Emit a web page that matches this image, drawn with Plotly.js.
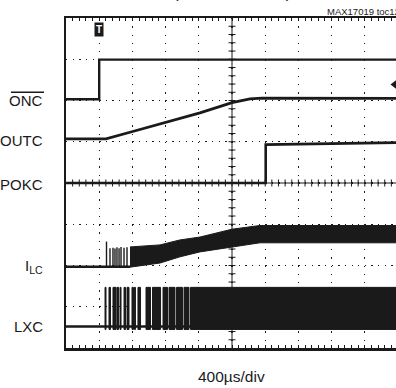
<!DOCTYPE html>
<html>
<head>
<meta charset="utf-8">
<script src="https://cdn.plot.ly/plotly-3.0.1.min.js"></script>
<style>
  html, body { margin: 0; padding: 0; background: #fff; overflow: hidden; width: 396px; height: 388px; }
  #scope { width: 420px; height: 388px; }
</style>
</head>
<body>
<div id="scope"></div>
<script>
// Time in microseconds from the left edge of the screen (400 us/div, 10 div),
// amplitudes in screen divisions (8 div high).
const tOnc = [0, 400, 400, 4000];
const vOnc = [6.03, 6.03, 6.99, 6.99];

const tOutc = [0, 482, 771, 1133, 1614, 2000, 2217, 2361, 4000];
const vOutc = [5.07, 5.07, 5.23, 5.43, 5.70, 5.95, 6.04, 6.06, 6.05];

const tPokc = [0, 2406, 2406, 4000];
const vPokc = [4.00, 4.00, 4.93, 4.98];

// Inductor current: idle level, first discrete current pulses, then ripple envelope
const ilcIdle = 1.97;
const ilcIdleEnd = 771;
const ilcSpikeT = [488, 530, 566, 590, 614, 639, 663, 699, 735];
const ilcSpikeTop = [2.58, 2.42, 2.43, 2.41, 2.44, 2.42, 2.45, 2.43, 2.44];
const ilcEnvT = [771, 1133, 1373, 1614, 2000, 2337, 4000];
const ilcEnvHi = [2.45, 2.50, 2.62, 2.69, 2.88, 2.97, 2.97];
const ilcEnvLo = [1.96, 2.06, 2.21, 2.33, 2.45, 2.55, 2.55];

// Switching node: idle level and bursts of switching activity
const lxcIdle = 0.52;
const lxcHigh = 1.47;
const lxcLow = 0.45;
const lxcBurstStart = [470, 518, 566, 614, 651, 699, 735, 795, 825, 867, 964, 1042, 1169, 1241, 1331, 1422, 1500];
const lxcBurstEnd   = [482, 536, 602, 633, 663, 717, 759, 813, 837, 898, 1018, 1139, 1223, 1313, 1404, 1482, 4100];

// Channel labels
const chanLabels = ['ONC', 'OUTC', 'POKC', 'I<sub>LC</sub>', 'LXC'];
const chanLabelY = [5.99, 5.04, 3.96, 1.98, 0.51];

const INK = '#1a1a1a';
const SANS = '"Liberation Sans", Arial, Helvetica, sans-serif';

function line(x, y, w) {
  return { x: x, y: y, type: 'scatter', mode: 'lines', line: { color: INK, width: w || 2.5 }, hoverinfo: 'skip' };
}

const traces = [];

// LXC: idle line plus filled switching bursts
traces.push(line([0, 4000], [lxcIdle, lxcIdle], 2.5));
const bx = [], by = [];
lxcBurstStart.forEach((s, i) => {
  const e = lxcBurstEnd[i];
  bx.push(s, e, e, s, s, null);
  by.push(lxcLow, lxcLow, lxcHigh, lxcHigh, lxcLow, null);
});
traces.push({ x: bx, y: by, type: 'scatter', mode: 'lines', fill: 'toself', fillcolor: INK,
  line: { color: INK, width: 1 }, hoverinfo: 'skip' });

// ILC: idle, discrete pulses, ripple band
traces.push(line([0, ilcIdleEnd], [ilcIdle, ilcIdle], 2.5));
const sx = [], sy = [];
ilcSpikeT.forEach((t, i) => { sx.push(t, t, null); sy.push(ilcIdle, ilcSpikeTop[i], null); });
traces.push(line(sx, sy, 1.4));
traces.push({ x: ilcEnvT.concat(ilcEnvT.slice().reverse()),
  y: ilcEnvHi.concat(ilcEnvLo.slice().reverse()),
  type: 'scatter', mode: 'lines', fill: 'toself', fillcolor: INK,
  line: { color: INK, width: 1 }, hoverinfo: 'skip' });

traces.push(line(tPokc, vPokc, 2.6));
traces.push(line(tOutc, vOutc, 2.8));
traces.push(line(tOnc, vOnc, 2.4));

// channel reference marker at the right edge
const refMarkerT = [3964];
const refMarkerY = [6.39];
traces.push({ x: refMarkerT, y: refMarkerY, type: 'scatter', mode: 'markers', cliponaxis: false,
  marker: { symbol: 'triangle-left', size: 9, color: INK }, hoverinfo: 'skip' });

// Graticule centre lines with cross ticks
const shapes = [
  { type: 'line', xref: 'x', yref: 'y', x0: 2000, x1: 2000, y0: 0, y1: 8, line: { color: INK, width: 1 }, layer: 'below' },
  { type: 'line', xref: 'x', yref: 'y', x0: 0, x1: 4000, y0: 4, y1: 4, line: { color: INK, width: 1 }, layer: 'below' }
];
for (let k = 1; k < 40; k++) {
  const yv = k * 0.2;
  shapes.push({ type: 'line', xref: 'x', yref: 'y', x0: 2000 - 42, x1: 2000 + 42, y0: yv, y1: yv,
    line: { color: INK, width: 1 }, layer: 'below' });
}
for (let k = 1; k < 50; k++) {
  const xv = k * 80;
  shapes.push({ type: 'line', xref: 'x', yref: 'y', x0: xv, x1: xv, y0: 4 - 0.085, y1: 4 + 0.085,
    line: { color: INK, width: 1 }, layer: 'below' });
}
// overbar on ONC
shapes.push({ type: 'line', xref: 'paper', yref: 'y', x0: (11 - 66) / 332, x1: (44 - 66) / 332, y0: 6.20, y1: 6.20,
  line: { color: INK, width: 1.3 } });

const annotations = chanLabels.map((txt, i) => ({
  text: txt, xref: 'paper', yref: 'y', x: (45 - 66) / 332, y: chanLabelY[i],
  xanchor: 'right', yanchor: 'middle', showarrow: false,
  font: { family: SANS, size: 15, color: INK }
}));
annotations.push({
  text: '400µs/div', xref: 'paper', yref: 'paper', x: 0.4985, y: -0.085,
  xanchor: 'center', yanchor: 'middle', showarrow: false,
  font: { family: SANS, size: 15.5, color: INK }
});
annotations.push({
  text: 'MAX17019 toc12', xref: 'paper', yref: 'paper', x: (325 - 66) / 332, y: 1.019,
  xanchor: 'left', yanchor: 'middle', showarrow: false,
  font: { family: SANS, size: 9.5, color: INK }
});
annotations.push({
  text: '(HEAVY LOAD)', xref: 'paper', yref: 'paper', x: 0.4985, y: 1.042,
  xanchor: 'center', yanchor: 'bottom', showarrow: false,
  font: { family: SANS, size: 17, color: INK }
});
// trigger position marker
annotations.push({
  text: '<b>T</b>', xref: 'x', yref: 'y', x: 400, y: 7.73,
  xanchor: 'center', yanchor: 'middle', showarrow: false,
  bgcolor: INK, borderpad: 1,
  font: { family: SANS, size: 10, color: '#fff' }
});

const layout = {
  width: 420, height: 388,
  margin: { l: 66, r: 22, t: 18, b: 40 },
  paper_bgcolor: '#fff', plot_bgcolor: '#fff',
  showlegend: false, hovermode: false,
  xaxis: {
    range: [0, 4000], dtick: 400, showticklabels: false, zeroline: false,
    showgrid: true, gridcolor: INK, gridwidth: 1.3, griddash: '1.3px,6.95px',
    showline: true, linecolor: INK, linewidth: 2.5, mirror: 'allticks',
    ticks: 'inside', ticklen: 3, tickcolor: INK, tickwidth: 1,
    minor: { dtick: 80, ticks: 'inside', ticklen: 3, tickcolor: INK, tickwidth: 1, showgrid: false }
  },
  yaxis: {
    range: [0, 8], dtick: 1, showticklabels: false, zeroline: false,
    showgrid: true, gridcolor: INK, gridwidth: 1.3, griddash: '1.3px,5.34px',
    showline: true, linecolor: INK, linewidth: 2.5, mirror: true, ticks: ''
  },
  shapes: shapes,
  annotations: annotations
};

Plotly.newPlot('scope', traces, layout, { staticPlot: true, displayModeBar: false });
</script>
</body>
</html>
